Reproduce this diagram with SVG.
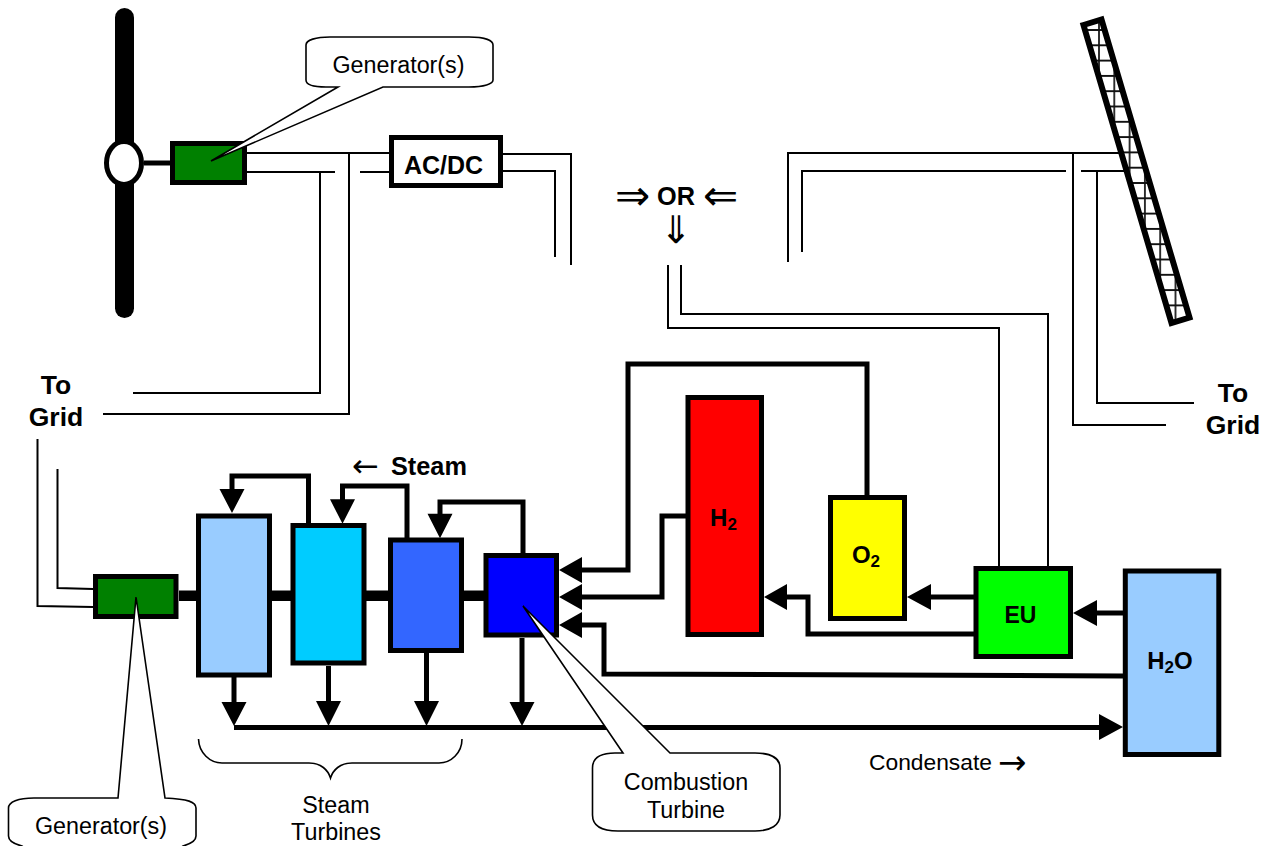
<svg xmlns="http://www.w3.org/2000/svg" width="1274" height="846" viewBox="0 0 1274 846">
<style>
text{font-family:"Liberation Sans",Arial,sans-serif;fill:#000}
.b{font-weight:700}
.t{text-anchor:middle}
.r{font-size:23.300px}
.a{font-family:"DejaVu Sans",sans-serif;font-weight:400}
.box{stroke:#000;stroke-width:5}
.thin{fill:none;stroke:#000;stroke-width:2}
.thick{fill:none;stroke:#000;stroke-width:5}
.call{fill:#fff;stroke:#000;stroke-width:1.6;stroke-linejoin:miter}
</style>
<defs>
<pattern id="grid" width="15.3" height="15.3" patternUnits="userSpaceOnUse" x="1091.35" y="22.35">
<rect width="15.3" height="15.3" fill="#fff"/>
<path d="M0 7.650H15.300M7.650 0V15.300" fill="none" stroke="#111" stroke-width="1.700"/>
</pattern>
</defs>
<rect width="1274" height="846" fill="#fff"/>
<g id="connectors">
<path class="thin" d="M247 153H390M247 172H335M360 172H390M320 172V393H133M349 153V414H103"/>
<path class="thin" d="M503 154H571V265M503 171H555V257"/>
<path class="thin" d="M788 262V153H1120M802 252V171H1066M1081 171H1125M1073 153V425H1166M1097 171V403H1194"/>
<path class="thin" d="M668 265V328H999V568M681 265V314H1048V568"/>
<path class="thin" d="M37.500 439V606L93 607M57.500 469V588L93 589"/>
<path class="thick" d="M867 496V364H628V570H580"/>
<path class="thick" d="M687 516H662V597H580"/>
<path class="thick" d="M1123 676L604 674V625H580"/>
<path class="thick" d="M974 597H930"/>
<path class="thick" d="M974 634H808V597H785"/>
<path class="thick" d="M1123 613H1095"/>
<path class="thick" d="M234 727.500H1102"/>
<path class="thick" d="M308.500 523V476H232V491"/>
<path class="thick" d="M407 538V486H342.500V501"/>
<path class="thick" d="M523 553V502H440V516"/>
<path class="thick" d="M234 677V704M328.500 666V703M426.500 653V703M522 638V704"/>
<path d="M179 595.700H484" fill="none" stroke="#000" stroke-width="10.500"/>
<path d="M559 570L582 557V583ZM559 597L582 584V610ZM559 625L582 612V638ZM907 597L931 584V610ZM764 597L787 584V610ZM1073 613L1097 600V626ZM1123 727L1099 714V740ZM232 513L219.500 489H244.500ZM342.500 523.700L330 499.300H355ZM440 538.300L427.500 513.700H452.500ZM234 726L221.500 702H246.500ZM328.500 726L316 701H341ZM426.500 726L414 701H439ZM522 726L509.500 702H534.500Z" fill="#000"/>
<path d="M144 163H171" fill="none" stroke="#000" stroke-width="5"/>
</g>
<g id="wind-turbine">
<rect x="115" y="8" width="19" height="310" rx="9.500" fill="#000"/>
<ellipse cx="124" cy="163" rx="17.500" ry="21.500" fill="#fff" stroke="#000" stroke-width="5"/>
</g>
<g id="generator-top"><rect class="box" x="172.500" y="143.500" width="72" height="39" fill="#008000"/></g>
<g id="ac-dc"><rect class="box" x="391.500" y="137.500" width="109" height="48" fill="#fff"/>
<text class="b t" x="443.500" y="174" font-size="25">AC/DC</text></g>
<g id="solar-panel">
<path d="M1083.500 25L1101.500 19.500L1189.500 317.500L1171.500 323Z" fill="url(#grid)" stroke="#000" stroke-width="6"/>
</g>
<g id="or-label">
<text class="b t" x="676" y="205" font-size="25.300"><tspan class="a" x="636" y="210" font-size="42">⇒</tspan> <tspan x="679.500" y="205">OR</tspan> <tspan class="a" x="720.500" y="210" font-size="42">⇐</tspan></text>
<text class="a t" x="676" y="243" font-size="38">⇓</text>
</g>
<g id="to-grid-left"><text class="b t" x="56" y="394" font-size="26.500">To</text><text class="b t" x="56" y="426" font-size="26.500">Grid</text></g>
<g id="to-grid-right"><text class="b t" x="1233" y="402" font-size="26.500">To</text><text class="b t" x="1233" y="434" font-size="26.500">Grid</text></g>
<g id="generator-bottom"><rect class="box" x="95.500" y="576.500" width="80.500" height="40" fill="#008000"/></g>
<g id="turbine-1"><rect class="box" x="198.500" y="516" width="71" height="159" fill="#99ccff"/></g>
<g id="turbine-2"><rect class="box" x="293" y="525.500" width="71" height="137.500" fill="#00ccff"/></g>
<g id="turbine-3"><rect class="box" x="390.500" y="540" width="71" height="110.500" fill="#3366ff"/></g>
<g id="combustion-turbine"><rect class="box" x="486" y="555.500" width="70.500" height="79.500" fill="#0000ff"/></g>
<g id="h2"><rect class="box" x="688" y="397.500" width="73.500" height="237" fill="#ff0000"/>
<text class="b t" x="723.500" y="526" font-size="24">H<tspan font-size="17" dy="4">2</tspan></text></g>
<g id="o2"><rect class="box" x="830.500" y="497.500" width="74" height="121" fill="#ffff00"/>
<text class="b t" x="866" y="563" font-size="24">O<tspan font-size="17" dy="4">2</tspan></text></g>
<g id="eu"><rect class="box" x="976" y="568.500" width="94.500" height="88" fill="#00ff00"/>
<text class="b t" x="1020.500" y="623" font-size="23">EU</text></g>
<g id="h2o"><rect class="box" x="1125.300" y="571" width="93.500" height="183.500" fill="#99ccff"/>
<text class="b t" x="1170" y="668.500" font-size="24">H<tspan font-size="17" dy="4">2</tspan><tspan dy="-4">O</tspan></text></g>
<g id="steam-label"><text class="b" x="352" y="475" font-size="25.300"><tspan class="a" y="477" font-size="32">←</tspan> <tspan x="391" y="475">Steam</tspan></text></g>
<g id="condensate-label"><text x="869" y="770" font-size="22.800">Condensate <tspan class="a" x="998" y="774" font-size="34">→</tspan></text></g>
<g id="callout-generator-top">
<path class="call" d="M338 87H326C312 87 306 84 306 80V45C306 40 316 37 330 37H469C484 37 493 40 493 45V80C493 84 484 87 469 87H383L211 161Z"/>
<text class="t r" x="398.500" y="73">Generator(s)</text></g>
<g id="callout-generator-bottom">
<path class="call" d="M118 798H34C18 798 8.500 802 8.500 808V836C8.500 841 14 844 22 846L30 852H175L183 846C190 844 196 841 196 836V808C196 802 188 799 165 798L136 597Z"/>
<text class="t r" x="101" y="833.500">Generator(s)</text></g>
<g id="callout-combustion">
<path class="call" d="M623 753H615C601 753 592.500 758 592.500 768V815C592.500 825 601 831 618 831H755C771 831 780 825 780 815V768C780 758 771 753 755 753H670L523 606Z"/>
<text class="t r" x="686" y="790">Combustion</text>
<text class="t r" x="686" y="818">Turbine</text></g>
<g id="steam-turbines-brace">
<path class="thin" style="stroke-width:1.600" d="M198.500 739C199 753 210 763 222 763H309C321 763 328 770 330.500 778C333 770 340 763 352 763H439C451 763 462 753 462 739"/>
<text class="t r" x="336" y="813">Steam</text>
<text class="t r" x="336" y="840">Turbines</text></g>
</svg>
